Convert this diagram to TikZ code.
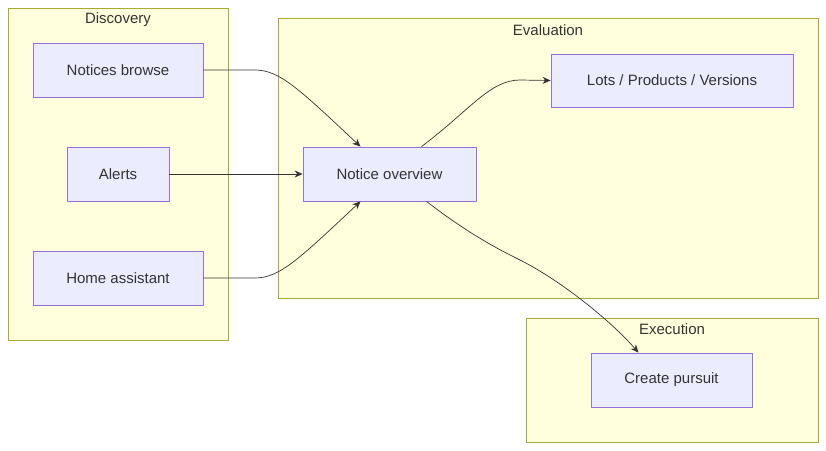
\documentclass[tikz,border=0pt]{standalone}
\usepackage{fontspec}
\setmainfont{Liberation Sans}
\usetikzlibrary{arrows.meta}
\definecolor{clfill}{HTML}{FFFFDE}
\definecolor{cldraw}{HTML}{AAAA33}
\definecolor{ndfill}{HTML}{ECECFF}
\definecolor{nddraw}{HTML}{9370DB}
\definecolor{txt}{HTML}{333333}
\tikzset{
  cluster/.style={draw=cldraw,fill=clfill,line width=0.8pt},
  box/.style={draw=nddraw,fill=ndfill,line width=0.8pt,text=txt,inner sep=0pt,
    font=\fontsize{15}{18}\selectfont},
  lbl/.style={text=txt,font=\fontsize{15}{18}\selectfont},
  link/.style={draw=txt,line width=0.7pt,-{Stealth[length=8pt,width=7pt]}}
}
\begin{document}
\begin{tikzpicture}[x=1pt,y=-1pt]
\useasboundingbox (0,0) rectangle (826,450);
% clusters
\draw[cluster] (8,8) rectangle (228,340);
\node[lbl] (discovery) at (118,20) {Discovery};
\draw[cluster] (278,18) rectangle (818,298);
\node[lbl] (evaluation) at (548,30) {Evaluation};
\draw[cluster] (526,318) rectangle (818,442);
\node[lbl] (execution) at (672,329) {Execution};
% nodes
\node[box,minimum width=170pt,minimum height=54pt] (browse) at (118,70) {Notices browse};
\node[box,minimum width=102pt,minimum height=54pt] (alerts) at (118,174) {Alerts};
\node[box,minimum width=170pt,minimum height=54pt] (home) at (118,278) {Home assistant};
\node[box,minimum width=173pt,minimum height=54pt] (overview) at (389.5,174) {Notice overview};
\node[box,minimum width=242pt,minimum height=53pt] (lots) at (672,80.5) {Lots / Products / Versions};
\node[box,minimum width=161pt,minimum height=54pt] (pursuit) at (671.5,380) {Create pursuit};
% links
\draw[link] (browse.east) -- (255,70) .. controls (280,70) and (300,90) .. ([xshift=-29pt]overview.north);
\draw[link] (alerts) -- (overview);
\draw[link] (home.east) -- (255,278) .. controls (280,278) and (300,258) .. ([xshift=-29pt]overview.south);
\draw[link] ([xshift=32pt]overview.north) .. controls (470,110) and (490,80) .. (520,80) -- (lots.west);
\draw[link] ([xshift=37pt]overview.south) .. controls (470,235) and (500,250) .. (520,260)
  .. controls (560,280) and (610,320) .. ([xshift=-33pt]pursuit.north);
\end{tikzpicture}
\end{document}
